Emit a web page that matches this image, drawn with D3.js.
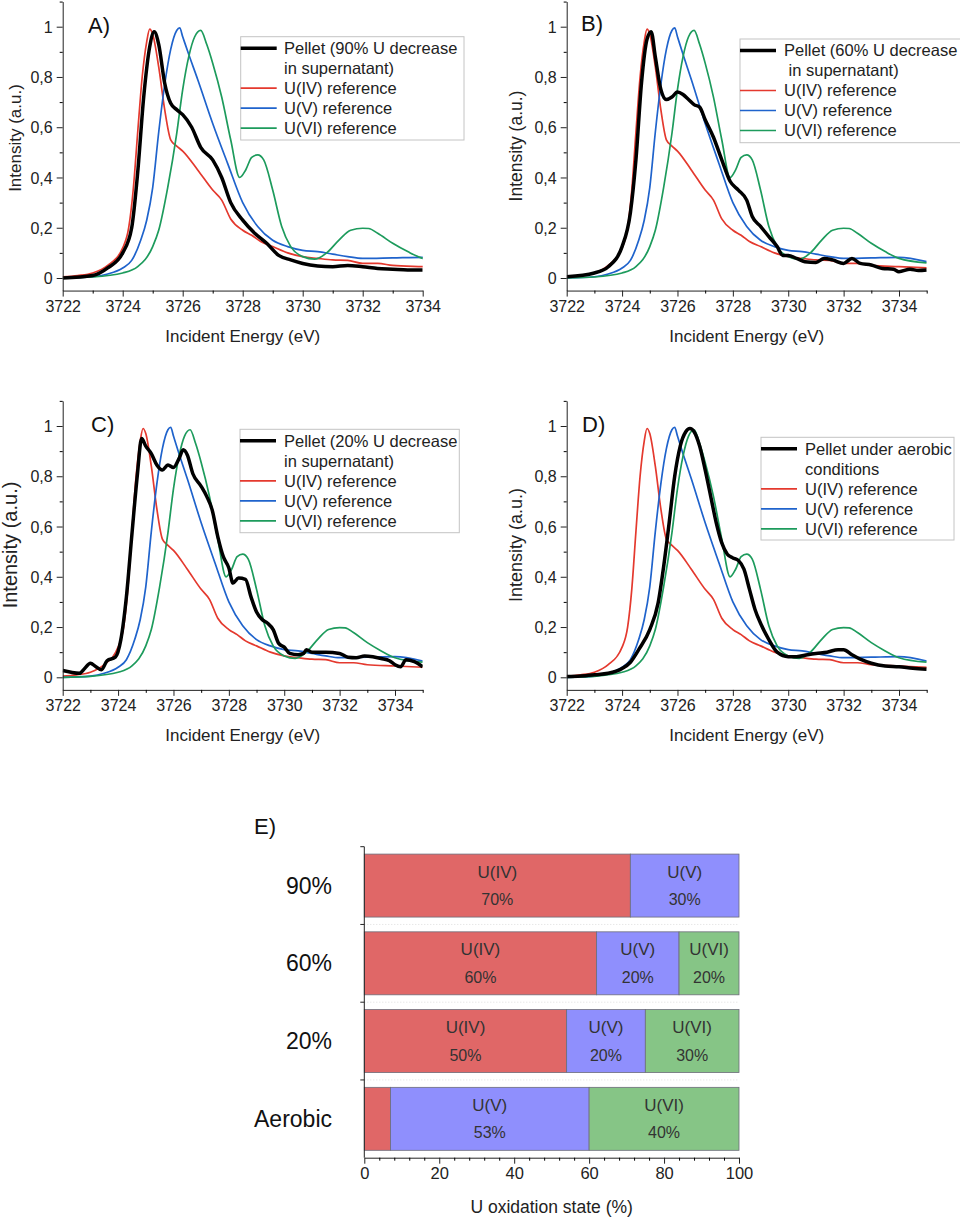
<!DOCTYPE html>
<html>
<head>
<meta charset="utf-8">
<script src="https://cdn.jsdelivr.net/npm/d3@7"></script>
<style>
  body { margin: 0; background: #fff; }
  svg { display: block; font-family: Arial, "Liberation Sans", sans-serif; }
</style>
</head>
<body>
<svg id="fig" width="960" height="1218"></svg>
<script>
// reference spectra (same in every panel), [energy eV, intensity]
const refU4 = [[3722,0.005],[3722.5,0.01],[3723,0.02],[3723.5,0.05],[3724,0.12],[3724.2,0.2],[3724.35,0.35],[3724.5,0.58],[3724.65,0.8],[3724.8,0.94],[3724.9,0.99],[3725,0.97],[3725.2,0.84],[3725.4,0.67],[3725.6,0.55],[3725.8,0.525],[3726,0.505],[3726.5,0.43],[3727,0.35],[3727.3,0.31],[3727.6,0.235],[3728,0.19],[3728.3,0.17],[3728.6,0.145],[3729,0.125],[3729.5,0.1],[3730,0.085],[3730.5,0.078],[3731,0.072],[3731.5,0.07],[3732,0.058],[3732.5,0.058],[3733,0.05],[3734,0.045],[3735,0.04]];
const refU5 = [[3722,0],[3723,0.005],[3723.5,0.016],[3724,0.04],[3724.3,0.07],[3724.6,0.15],[3724.8,0.23],[3725,0.36],[3725.2,0.58],[3725.4,0.77],[3725.6,0.91],[3725.8,0.985],[3725.9,0.995],[3726,0.96],[3726.2,0.89],[3726.5,0.79],[3727,0.615],[3727.5,0.455],[3728,0.3],[3728.5,0.205],[3729,0.15],[3729.5,0.125],[3730,0.11],[3730.5,0.105],[3731,0.095],[3731.5,0.085],[3732,0.078],[3733,0.08],[3734,0.082],[3735,0.065]];
const refU6 = [[3722,0],[3723,0.004],[3724,0.02],[3724.5,0.045],[3725,0.125],[3725.2,0.19],[3725.5,0.36],[3725.8,0.575],[3726,0.75],[3726.2,0.88],[3726.4,0.96],[3726.6,0.985],[3726.8,0.93],[3727,0.855],[3727.3,0.72],[3727.6,0.55],[3727.9,0.40],[3728.1,0.43],[3728.3,0.48],[3728.5,0.49],[3728.7,0.47],[3729,0.35],[3729.3,0.205],[3729.6,0.125],[3730,0.085],[3730.4,0.075],[3730.8,0.1],[3731.2,0.15],[3731.6,0.19],[3732,0.198],[3732.2,0.197],[3732.5,0.178],[3733,0.138],[3733.5,0.105],[3734,0.078],[3735,0.06]];

// pellet spectra
const pellet90 = [[3722,0],[3723,0.01],[3723.5,0.04],[3724,0.1],[3724.3,0.2],[3724.5,0.42],[3724.7,0.72],[3724.9,0.92],[3725.05,0.98],[3725.2,0.93],[3725.4,0.775],[3725.6,0.695],[3725.8,0.67],[3726,0.65],[3726.3,0.6],[3726.6,0.52],[3727,0.47],[3727.3,0.4],[3727.6,0.3],[3728,0.23],[3728.4,0.178],[3728.8,0.138],[3729.2,0.09],[3729.6,0.072],[3730,0.058],[3730.5,0.048],[3731,0.045],[3731.5,0.05],[3732,0.045],[3732.5,0.038],[3733,0.035],[3733.5,0.032],[3734,0.032]];
const pellet60 = [[3722,0.005],[3723,0.02],[3723.5,0.045],[3724,0.125],[3724.3,0.26],[3724.5,0.47],[3724.7,0.775],[3724.9,0.95],[3725.05,0.98],[3725.2,0.88],[3725.4,0.75],[3725.6,0.71],[3725.8,0.72],[3726,0.74],[3726.2,0.73],[3726.4,0.71],[3726.6,0.69],[3726.8,0.68],[3727,0.63],[3727.3,0.56],[3727.6,0.47],[3727.9,0.385],[3728.2,0.35],[3728.5,0.31],[3728.7,0.245],[3729,0.205],[3729.3,0.165],[3729.6,0.125],[3729.8,0.09],[3730,0.09],[3730.3,0.078],[3730.6,0.065],[3731,0.062],[3731.3,0.078],[3731.6,0.072],[3732,0.058],[3732.3,0.078],[3732.6,0.058],[3733,0.052],[3733.4,0.038],[3733.8,0.035],[3734,0.025],[3734.4,0.035],[3734.7,0.03],[3735,0.032]];
const pellet20 = [[3722,0.027],[3722.3,0.02],[3722.6,0.016],[3722.8,0.036],[3723,0.056],[3723.2,0.042],[3723.4,0.03],[3723.6,0.066],[3723.9,0.08],[3724.1,0.15],[3724.3,0.32],[3724.5,0.57],[3724.7,0.81],[3724.85,0.95],[3725,0.92],[3725.2,0.89],[3725.4,0.845],[3725.6,0.825],[3725.8,0.845],[3726,0.835],[3726.2,0.87],[3726.35,0.905],[3726.5,0.885],[3726.7,0.81],[3727,0.76],[3727.2,0.72],[3727.4,0.665],[3727.6,0.56],[3727.8,0.48],[3728,0.435],[3728.15,0.375],[3728.35,0.395],[3728.6,0.39],[3728.8,0.32],[3729,0.26],[3729.2,0.23],[3729.4,0.215],[3729.6,0.19],[3729.8,0.135],[3730,0.12],[3730.2,0.095],[3730.5,0.09],[3730.7,0.095],[3730.8,0.11],[3731,0.1],[3731.5,0.1],[3732,0.095],[3732.3,0.08],[3732.6,0.078],[3732.9,0.085],[3733.2,0.082],[3733.5,0.075],[3733.8,0.066],[3734,0.05],[3734.2,0.042],[3734.4,0.07],[3734.7,0.062],[3735,0.042]];
const pelletAerobic = [[3722,0.003],[3722.5,0.005],[3723,0.01],[3723.5,0.016],[3724,0.035],[3724.3,0.06],[3724.6,0.11],[3725,0.19],[3725.3,0.295],[3725.5,0.44],[3725.7,0.615],[3725.9,0.8],[3726.1,0.92],[3726.3,0.977],[3726.45,0.99],[3726.6,0.977],[3726.8,0.92],[3727,0.825],[3727.2,0.72],[3727.4,0.615],[3727.6,0.535],[3727.8,0.49],[3728,0.475],[3728.2,0.465],[3728.4,0.43],[3728.6,0.35],[3728.8,0.27],[3729,0.215],[3729.3,0.15],[3729.6,0.1],[3730,0.082],[3730.3,0.082],[3730.7,0.09],[3731,0.095],[3731.4,0.1],[3731.8,0.11],[3732,0.11],[3732.3,0.09],[3732.6,0.072],[3733,0.056],[3733.5,0.045],[3734,0.042],[3734.5,0.036],[3735,0.032]];

const yTicks = [0, 0.2, 0.4, 0.6, 0.8, 1];
const legendRefs = ["U(IV) reference", "U(V) reference", "U(VI) reference"];

// bar chart (panel E)
const barCats = ["90%", "60%", "20%", "Aerobic"];
const barU4 = [71, 62, 54, 7];
const barU5 = [29, 22, 21, 53];
const barU6 = [0, 16, 25, 40];
const barLabelU4 = ["70%", "60%", "50%", null];
const barLabelU5 = ["30%", "20%", "20%", "53%"];
const barLabelU6 = [null, "20%", "30%", "40%"];
const barNames = ["U(IV)", "U(V)", "U(VI)"];

const lineColors = { u4: "#e4392e", u5: "#1f63cc", u6: "#1d9b5c", pellet: "#000" };
const barColors = ["#e06767", "#8f8ffd", "#86c586"];

const svg = d3.select("#fig");

const panels = [
  { tag: "A)", pellet: pellet90, xMax: 3734, left: 62.7, right: 422.7, y0: 278, y1: 26.7,
    tagX: 88, tagY: 33, titleSize: 17, yTitleX: 21, yTitleY: 138,
    legend: { x: 240.7, y: 36.7, w: 223.3, h: 103.3, tx: 284, lines: ["Pellet (90% U decrease", "in supernatant)"] } },
  { tag: "B)", pellet: pellet60, xMax: 3735, left: 566.7, right: 926.7, y0: 278, y1: 26.7,
    tagX: 581, tagY: 31, titleSize: 17.5, yTitleX: 522, yTitleY: 146,
    legend: { x: 740, y: 39, w: 222, h: 103.7, tx: 784, lines: ["Pellet (60% U decrease", "\u00a0in supernatant)"] } },
  { tag: "C)", pellet: pellet20, xMax: 3735, left: 62.7, right: 422.7, y0: 677.3, y1: 426,
    tagX: 91, tagY: 432, titleSize: 20, yTitleX: 17, yTitleY: 545,
    legend: { x: 240, y: 429.3, w: 219.3, h: 103.4, tx: 284, lines: ["Pellet (20% U decrease", "in supernatant)"] } },
  { tag: "D)", pellet: pelletAerobic, xMax: 3735, left: 566.7, right: 926.7, y0: 677.3, y1: 426,
    tagX: 582, tagY: 432, titleSize: 18, yTitleX: 522, yTitleY: 545,
    legend: { x: 761, y: 437.3, w: 193, h: 102.7, tx: 805, lines: ["Pellet under aerobic", "conditions"] } }
];

panels.forEach((p, i) => drawSpectrum(p, i));
drawBars();

function drawSpectrum(p, idx) {
  const unit = p.y0 - p.y1;
  const bottom = p.y0 + 0.05 * unit;
  const top = p.y1 - 0.1 * unit;

  const x = d3.scaleLinear().domain([3722, p.xMax]).range([p.left, p.right]);
  const y = d3.scaleLinear().domain([-0.05, 1.1]).range([bottom, top]);

  const g = svg.append("g");

  g.append("clipPath").attr("id", "clip" + idx)
    .append("rect")
    .attr("x", p.left).attr("y", top - 5)
    .attr("width", p.right - p.left).attr("height", bottom - top + 5);

  const line = d3.line()
    .x(d => x(d[0]))
    .y(d => y(d[1]))
    .curve(d3.curveMonotoneX);

  const plot = g.append("g").attr("clip-path", `url(#clip${idx})`);
  const series = [
    { data: refU4, color: lineColors.u4, w: 1.7 },
    { data: refU5, color: lineColors.u5, w: 1.7 },
    { data: refU6, color: lineColors.u6, w: 1.7 },
    { data: p.pellet, color: lineColors.pellet, w: 3.5 }
  ];
  plot.selectAll("path")
    .data(series)
    .join("path")
    .attr("d", d => line(d.data))
    .attr("fill", "none")
    .attr("stroke", d => d.color)
    .attr("stroke-width", d => d.w)
    .attr("stroke-linejoin", "round");

  // axes
  const xMajor = d3.range(3722, p.xMax + 0.1, 2);
  const xMinor = d3.range(3723, p.xMax + 0.1, 2);

  const xAxis = g.append("g")
    .attr("transform", `translate(0,${bottom})`)
    .call(d3.axisBottom(x).tickValues(xMajor).tickFormat(d3.format("d")).tickSize(6).tickSizeOuter(0).tickPadding(4));
  g.append("g")
    .attr("transform", `translate(0,${bottom})`)
    .call(d3.axisBottom(x).tickValues(xMinor).tickFormat("").tickSize(3).tickSizeOuter(0))
    .select(".domain").remove();

  const yAxis = g.append("g")
    .attr("transform", `translate(${p.left},0)`)
    .call(d3.axisLeft(y).tickValues(yTicks)
      .tickFormat(d => d === 0 || d === 1 ? String(d) : String(d).replace(".", ","))
      .tickSize(6).tickSizeOuter(0).tickPadding(4));
  g.append("g")
    .attr("transform", `translate(${p.left},0)`)
    .call(d3.axisLeft(y).tickValues([0.1, 0.3, 0.5, 0.7, 0.9, 1.1]).tickFormat("").tickSize(3).tickSizeOuter(0))
    .select(".domain").remove();

  [xAxis, yAxis].forEach(a => {
    a.selectAll("text").attr("font-size", 16).attr("fill", "#222").attr("font-family", null);
    a.selectAll("line").attr("stroke", "#222");
    a.select(".domain").attr("stroke", "#222");
  });
  yAxis.selectAll("text").attr("dy", "0.35em");

  g.append("text")
    .attr("x", (p.left + p.right) / 2)
    .attr("y", bottom + 51)
    .attr("text-anchor", "middle")
    .attr("font-size", 17)
    .attr("fill", "#222")
    .text("Incident Energy (eV)");

  g.append("text")
    .attr("transform", `translate(${p.yTitleX},${p.yTitleY}) rotate(-90)`)
    .attr("text-anchor", "middle")
    .attr("font-size", p.titleSize)
    .attr("fill", "#222")
    .text("Intensity (a.u.)");

  g.append("text")
    .attr("x", p.tagX)
    .attr("y", p.tagY)
    .attr("font-size", 22)
    .attr("fill", "#111")
    .text(p.tag);

  // legend
  const L = p.legend;
  const lg = g.append("g");
  lg.append("rect")
    .attr("x", L.x).attr("y", L.y).attr("width", L.w).attr("height", L.h)
    .attr("fill", "#fff").attr("stroke", "#c4c4c4").attr("stroke-width", 1);
  const rows = [
    { label: L.lines[0], color: lineColors.pellet, w: 3.5, row: 0 },
    { label: L.lines[1], color: null, row: 1 },
    { label: legendRefs[0], color: lineColors.u4, w: 1.7, row: 2 },
    { label: legendRefs[1], color: lineColors.u5, w: 1.7, row: 3 },
    { label: legendRefs[2], color: lineColors.u6, w: 1.7, row: 4 }
  ];
  rows.forEach(r => {
    const cy = L.y + 11.5 + r.row * 20;
    if (r.color) {
      lg.append("line")
        .attr("x1", L.x).attr("x2", L.x + 36)
        .attr("y1", cy).attr("y2", cy)
        .attr("stroke", r.color).attr("stroke-width", r.w);
    }
    lg.append("text")
      .attr("x", L.tx).attr("y", cy)
      .attr("dy", "0.35em")
      .attr("font-size", 16.5)
      .attr("fill", "#222")
      .text(r.label);
  });
}

function drawBars() {
  const left = 364.3, right = 739, top = 846.7, bottom = 1157.7;
  const x = d3.scaleLinear().domain([0, 100]).range([left, right]);
  const y = d3.scaleBand().domain(barCats).range([top, bottom])
    .paddingInner(0.19).paddingOuter(0.095);

  const rows = barCats.map((c, i) => ({ cat: c, u4: barU4[i], u5: barU5[i], u6: barU6[i] }));
  const stack = d3.stack().keys(["u4", "u5", "u6"])(rows);
  const labels = [barLabelU4, barLabelU5, barLabelU6];

  const g = svg.append("g");

  // faint dotted separators between the bars
  const gap = y.step() * y.paddingInner();
  g.selectAll(".sep")
    .data(barCats.slice(1))
    .join("line")
    .attr("x1", left).attr("x2", right)
    .attr("y1", d => y(d) - gap / 2).attr("y2", d => y(d) - gap / 2)
    .attr("stroke", "#ddd").attr("stroke-width", 1).attr("stroke-dasharray", "1,2");

  stack.forEach((layer, k) => {
    const lg = g.append("g");
    lg.selectAll("rect")
      .data(layer.filter(d => d[1] - d[0] > 0))
      .join("rect")
      .attr("x", d => x(d[0]))
      .attr("y", d => y(d.data.cat))
      .attr("width", d => x(d[1]) - x(d[0]))
      .attr("height", y.bandwidth())
      .attr("fill", barColors[k])
      .attr("stroke", "#6d6d7a")
      .attr("stroke-width", 0.8);

    layer.forEach((d, i) => {
      const val = labels[k][i];
      if (!val) return;
      const cx = (x(d[0]) + x(d[1])) / 2;
      const cy = y(d.data.cat) + y.bandwidth() / 2;
      lg.append("text")
        .attr("x", cx).attr("y", cy - 14)
        .attr("dy", "0.35em")
        .attr("text-anchor", "middle")
        .attr("font-size", 17)
        .attr("fill", "#333")
        .text(barNames[k]);
      lg.append("text")
        .attr("x", cx).attr("y", cy + 14)
        .attr("dy", "0.35em")
        .attr("text-anchor", "middle")
        .attr("font-size", 16)
        .attr("fill", "#333")
        .text(val);
    });
  });

  // y axis: line with ticks at band boundaries
  g.append("line")
    .attr("x1", left).attr("x2", left)
    .attr("y1", top).attr("y2", bottom)
    .attr("stroke", "#222");
  g.selectAll(".ytick")
    .data(barCats)
    .join("line")
    .attr("x1", left - 4).attr("x2", left)
    .attr("y1", d => y(d) - gap / 2).attr("y2", d => y(d) - gap / 2)
    .attr("stroke", "#222");

  g.selectAll(".cat")
    .data(barCats)
    .join("text")
    .attr("x", 332)
    .attr("y", d => y(d) + y.bandwidth() / 2)
    .attr("dy", "0.35em")
    .attr("text-anchor", "end")
    .attr("font-size", 23)
    .attr("fill", "#111")
    .text(d => d);

  const xAxis = g.append("g")
    .attr("transform", `translate(0,${bottom})`)
    .call(d3.axisBottom(x).tickValues(d3.range(0, 101, 20)).tickSize(6).tickSizeOuter(0).tickPadding(4));
  g.append("g")
    .attr("transform", `translate(0,${bottom})`)
    .call(d3.axisBottom(x).tickValues(d3.range(0, 101, 4).filter(v => v % 20 !== 0)).tickFormat("").tickSize(3).tickSizeOuter(0))
    .select(".domain").remove();
  xAxis.selectAll("text").attr("font-size", 16.5).attr("fill", "#222").attr("font-family", null);
  xAxis.selectAll("line").attr("stroke", "#222");
  xAxis.select(".domain").attr("stroke", "#222");

  g.append("text")
    .attr("x", (left + right) / 2)
    .attr("y", 1213)
    .attr("text-anchor", "middle")
    .attr("font-size", 17.5)
    .attr("fill", "#222")
    .text("U oxidation state (%)");

  g.append("text")
    .attr("x", 254)
    .attr("y", 834)
    .attr("font-size", 22)
    .attr("fill", "#111")
    .text("E)");
}
</script>
</body>
</html>
